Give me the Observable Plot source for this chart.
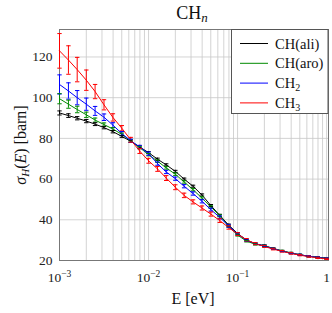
<!DOCTYPE html>
<html>
<head>
<meta charset="utf-8">
<script src="https://cdn.jsdelivr.net/npm/d3@7"></script>
<script src="https://cdn.jsdelivr.net/npm/@observablehq/plot@0.6"></script>
<style>
  html, body { margin: 0; padding: 0; background: #fff; }
  #chart svg { display: block; }
</style>
</head>
<body>
<div id="chart"></div>
<script>
// Energies (eV)
const energy = [0.001,0.00126,0.00158,0.002,0.00251,0.00316,0.00398,0.00501,0.00631,0.00794,
  0.01,0.0126,0.0158,0.02,0.0251,0.0316,0.0398,0.0501,0.0631,0.0794,
  0.1,0.126,0.158,0.2,0.251,0.316,0.398,0.501,0.631,0.794,1];

// Series names and colours
const seriesNames = ["CH(ali)", "CH(aro)", "CH2", "CH3"];
const seriesColors = ["#000000", "#008a00", "#0000ff", "#ff0000"];

// Cross sections (barn)
const chAli = [92.5,91.2,89.9,88.5,87.0,85.3,83.3,81.0,78.6,75.8,73.0,69.8,67.0,63.8,60.0,56.5,52.2,47.0,42.2,37.4,33.3,30.0,28.2,27.3,25.9,24.7,23.7,22.8,22.1,21.6,21.1];
const chAliErr = [1.0,0.9,0.8,0.8,0.7,0.6,0.6,0.5,0.5,0.5,0.5,0.5,0.5,0.5,0.5,0.5,0.5,0.5,0.5,0.5,0.4,0.4,0.4,0.4,0.3,0.3,0.3,0.3,0.3,0.3,0.3];
const chAro = [99.5,96.8,94.2,91.6,89.0,86.8,84.6,82.0,78.8,75.5,72.0,68.8,65.5,62.4,58.6,54.8,50.7,46.3,42.0,36.8,32.5,29.5,28.0,27.2,25.9,24.7,23.7,22.8,22.1,21.5,21.1];
const chAroErr = [2.5,2.0,1.6,1.3,1.0,0.8,0.7,0.6,0.6,0.6,0.6,0.6,0.6,0.6,0.6,0.6,0.6,0.6,0.5,0.5,0.5,0.4,0.4,0.4,0.3,0.3,0.3,0.3,0.3,0.3,0.3];
const ch2 = [106.5,103.3,100.0,96.8,93.5,90.4,86.5,82.4,78.8,75.8,72.5,67.6,63.5,60.2,56.5,52.9,49.1,45.0,41.2,37.0,33.0,30.0,28.3,27.1,25.8,24.6,23.6,22.8,22.1,21.5,21.0];
const ch2Err = [4.7,4.0,3.5,3.0,2.2,1.6,1.2,1.0,0.8,0.8,0.8,0.8,0.8,0.8,0.8,0.8,0.8,0.7,0.7,0.6,0.5,0.5,0.4,0.4,0.3,0.3,0.3,0.3,0.3,0.3,0.3];
const ch3 = [123.0,118.5,113.8,108.6,103.0,96.5,90.3,85.0,79.3,73.8,69.0,65.0,60.5,56.0,52.0,48.8,45.8,42.8,39.6,36.2,33.0,30.2,28.3,26.9,25.6,24.5,23.5,22.6,21.9,21.3,20.8];
const ch3Err = [8.5,7.0,6.0,5.0,3.5,2.5,1.8,1.3,1.2,1.2,1.2,1.2,1.2,1.2,1.1,1.0,1.0,1.0,0.9,0.8,0.7,0.6,0.5,0.5,0.4,0.4,0.4,0.3,0.3,0.3,0.3];

// Axis ticks
const xTicks = [0.001, 0.01, 0.1, 1];
const xTickExp = ["−3", "−2", "−1", ""];
const yTicks = [20, 40, 60, 80, 100, 120];

const values = [chAli, chAro, ch2, ch3];
const errors = [chAliErr, chAroErr, ch2Err, ch3Err];

const rows = seriesNames.flatMap((name, s) => energy.map((E, i) => ({
  name, E, v: values[s][i], lo: values[s][i] - errors[s][i], hi: values[s][i] + errors[s][i]
})));

const capSymbol = {
  draw(context, size) {
    const w = Math.sqrt(size / Math.PI);
    context.moveTo(-w, 0);
    context.lineTo(w, 0);
  }
};

const gridXValues = d3.scaleLog().domain([0.001, 1]).ticks();
const serif = "'Liberation Serif', 'DejaVu Serif', serif";

const plot = Plot.plot({
  width: 332,
  height: 313,
  marginLeft: 59,
  marginRight: 4,
  marginTop: 29,
  marginBottom: 53,
  style: { fontFamily: serif, fontSize: "13px", background: "#fff", color: "#222" },
  x: { type: "log", domain: [0.001, 1.05] },
  y: { domain: [20, 133.5] },
  color: { domain: seriesNames, range: seriesColors },
  marks: [
    Plot.gridX(gridXValues, { stroke: "#c8c8c8", strokeOpacity: 1, strokeWidth: 0.8 }),
    Plot.gridY(yTicks, { stroke: "#c8c8c8", strokeOpacity: 1, strokeWidth: 0.8 }),
    Plot.axisX(xTicks, { tickSize: 0, tickPadding: 12, label: null, tickFormat: (d) => String(d), fontSize: 13.5 }),
    Plot.axisY(yTicks, { tickSize: 0, tickPadding: 7, label: null, fontSize: 13.5 }),
    Plot.frame({ stroke: "#777", strokeWidth: 1 }),
    Plot.line(rows, { x: "E", y: "v", z: "name", stroke: "name", strokeWidth: 1 }),
    Plot.ruleX(rows, { x: "E", y1: "lo", y2: "hi", stroke: "name", strokeWidth: 1 }),
    Plot.dot(rows, { x: "E", y: "lo", symbol: capSymbol, r: 2.2, stroke: "name", strokeWidth: 1, fill: "none" }),
    Plot.dot(rows, { x: "E", y: "hi", symbol: capSymbol, r: 2.2, stroke: "name", strokeWidth: 1, fill: "none" })
  ]
});

document.getElementById("chart").appendChild(plot);

const svg = d3.select(plot);

// Superscript exponents on x tick labels
svg.selectAll('[aria-label="x-axis tick label"] text').each(function(d, i) {
  const t = d3.select(this);
  if (xTickExp[i] === "") { t.text("1"); return; }
  t.text(null);
  t.append("tspan").text("10");
  t.append("tspan").attr("font-size", "9.5px").attr("dy", "-0.5em").text(xTickExp[i]);
});

// Title
const title = svg.append("text")
  .attr("x", 192).attr("y", 19)
  .attr("text-anchor", "middle")
  .attr("font-family", serif)
  .attr("font-size", "18px")
  .attr("fill", "#111");
title.append("tspan").text("CH");
title.append("tspan").attr("font-style", "italic").attr("font-size", "13px").attr("dy", "3").text("n");

// X label
svg.append("text")
  .attr("x", 193).attr("y", 304)
  .attr("text-anchor", "middle")
  .attr("font-family", serif)
  .attr("font-size", "16px")
  .attr("fill", "#111")
  .text("E [eV]");

// Y label
const yl = svg.append("text")
  .attr("transform", "translate(26,145) rotate(-90)")
  .attr("text-anchor", "middle")
  .attr("font-family", serif)
  .attr("font-size", "16px")
  .attr("fill", "#111");
yl.append("tspan").attr("font-style", "italic").text("σ");
yl.append("tspan").attr("font-style", "italic").attr("font-size", "11px").attr("dy", "3").text("H");
yl.append("tspan").attr("dy", "-3").text("(");
yl.append("tspan").attr("font-style", "italic").text("E");
yl.append("tspan").text(") [barn]");

// Legend
const lg = svg.append("g").attr("text-anchor", "start");
lg.append("rect").attr("x", 231.5).attr("y", 29.5).attr("width", 96.5).attr("height", 84)
  .attr("fill", "#fff").attr("stroke", "#555").attr("stroke-width", 1);
const legendLabels = [["CH(ali)"], ["CH(aro)"], ["CH", "2"], ["CH", "3"]];
legendLabels.forEach((lab, i) => {
  const y = 43.5 + i * 19.8;
  lg.append("line").attr("x1", 240).attr("x2", 268).attr("y1", y).attr("y2", y)
    .attr("stroke", seriesColors[i]).attr("stroke-width", 1);
  const t = lg.append("text").attr("x", 275).attr("y", y + 5)
    .attr("text-anchor", "start")
    .attr("font-family", serif).attr("font-size", "14.5px").attr("fill", "#111");
  t.append("tspan").text(lab[0]);
  if (lab[1]) t.append("tspan").attr("font-size", "10px").attr("dy", "3").text(lab[1]);
});
</script>
</body>
</html>
